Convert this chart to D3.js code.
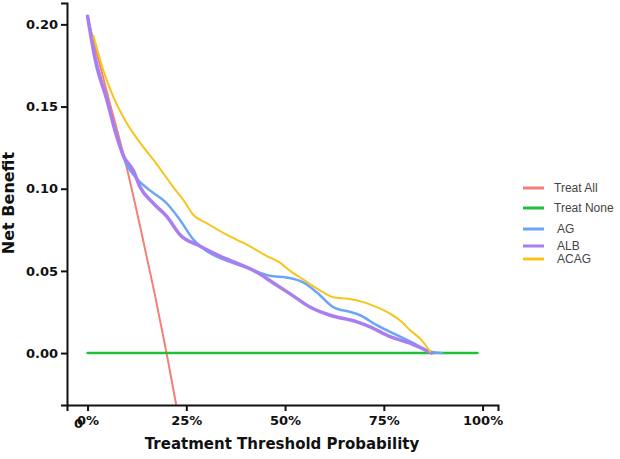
<!DOCTYPE html>
<html>
<head>
<meta charset="utf-8">
<script src="https://cdn.jsdelivr.net/npm/d3@7"></script>
<style>
  body { margin: 0; background: #fff; }
  .axis text { font-family: "DejaVu Sans", sans-serif; font-weight: bold; font-size: 13px; fill: #111; }
  .axis path, .axis line { stroke: #111; stroke-width: 2px; }
</style>
</head>
<body>
<div id="chart"></div>
<script>
// threshold probability (t) and net benefit (v)
var treatAll = [[0, 0.204], [0.05, 0.158], [0.10, 0.112], [0.135, 0.075], [0.17, 0.036], [0.20, 0.0], [0.224, -0.031]];
var treatNone = [[0, 0], [0.987, 0]];
var ag = [[0, 0.205], [0.02, 0.180], [0.049, 0.154], [0.07, 0.136], [0.091, 0.119], [0.125, 0.106], [0.158, 0.099],
  [0.201, 0.091], [0.234, 0.081], [0.268, 0.069], [0.302, 0.062], [0.344, 0.057], [0.403, 0.052], [0.462, 0.047],
  [0.504, 0.046], [0.546, 0.043], [0.580, 0.037], [0.622, 0.028], [0.665, 0.025], [0.690, 0.023], [0.732, 0.017],
  [0.774, 0.012], [0.825, 0.006], [0.867, 0.001], [0.897, 0.0]];
var alb = [[0, 0.205], [0.02, 0.178], [0.049, 0.154], [0.07, 0.135], [0.091, 0.120], [0.116, 0.111], [0.133, 0.101],
  [0.167, 0.091], [0.201, 0.083], [0.234, 0.072], [0.285, 0.065], [0.335, 0.059], [0.385, 0.054], [0.430, 0.049],
  [0.462, 0.044], [0.513, 0.036], [0.563, 0.028], [0.614, 0.023], [0.682, 0.019], [0.715, 0.016], [0.766, 0.010],
  [0.816, 0.006], [0.871, 0.0]];
var acag = [[0.015, 0.193], [0.040, 0.172], [0.065, 0.156], [0.099, 0.140], [0.133, 0.128], [0.175, 0.115],
  [0.217, 0.101], [0.243, 0.093], [0.268, 0.084], [0.302, 0.079], [0.352, 0.072], [0.403, 0.066], [0.454, 0.059],
  [0.487, 0.055], [0.513, 0.050], [0.538, 0.046], [0.563, 0.042], [0.589, 0.038], [0.622, 0.034], [0.660, 0.033],
  [0.698, 0.031], [0.732, 0.028], [0.766, 0.024], [0.795, 0.019], [0.816, 0.014], [0.845, 0.008], [0.867, 0.001]];

var seriesNames = ["Treat All", "Treat None", "AG", "ALB", "ACAG"];
var seriesColors = ["#f28079", "#1fc13a", "#6aa5f7", "#a97ef0", "#f7c519"];
var seriesWidths = [2, 2.5, 2.5, 3.5, 2];
var xTicks = [0, 0.25, 0.5, 0.75, 1];
var yTicks = [0, 0.05, 0.10, 0.15, 0.20];

function renderDca() {
  var width = 620, height = 459;
  var data = [treatAll, treatNone, ag, alb, acag];

  var x = d3.scaleLinear().domain([-0.052, 1.039]).range([67, 498]);
  var y = d3.scaleLinear().domain([-0.0316, 0.213]).range([405, 3]);

  var svg = d3.select("#chart").append("svg")
      .attr("width", width)
      .attr("height", height);

  svg.append("clipPath").attr("id", "plot")
    .append("rect")
      .attr("x", 67).attr("y", 0)
      .attr("width", 440).attr("height", 405);

  var line = d3.line()
      .x(function(d) { return x(d[0]); })
      .y(function(d) { return y(d[1]); })
      .curve(d3.curveMonotoneX);

  svg.append("g").attr("clip-path", "url(#plot)")
    .selectAll("path")
    .data(data)
    .enter().append("path")
      .attr("d", line)
      .style("fill", "none")
      .style("stroke", function(d, i) { return seriesColors[i]; })
      .style("stroke-width", function(d, i) { return seriesWidths[i]; })
      .style("stroke-linejoin", "round")
      .style("stroke-linecap", "round");

  var xAxis = d3.axisBottom(x)
      .tickValues(xTicks)
      .tickFormat(d3.format(".0%"))
      .tickSizeOuter(0)
      .tickSize(6)
      .tickPadding(5);

  var yAxis = d3.axisLeft(y)
      .tickValues(yTicks)
      .tickFormat(d3.format(".2f"))
      .tickSizeOuter(0)
      .tickSize(6)
      .tickPadding(3);

  svg.append("g")
      .attr("class", "x axis")
      .attr("transform", "translate(0,405)")
      .call(xAxis);

  svg.append("g")
      .attr("class", "y axis")
      .attr("transform", "translate(67,0)")
      .call(yAxis);

  // stray "0" overprinted on the 0% label
  svg.append("text")
      .attr("x", x(0) - 9)
      .attr("y", 428)
      .attr("text-anchor", "middle")
      .style("font-family", "DejaVu Sans")
      .style("font-weight", "bold")
      .style("font-size", "13px")
      .style("fill", "#111")
      .text("0");

  svg.append("text")
      .attr("x", 282)
      .attr("y", 449)
      .attr("text-anchor", "middle")
      .style("font-family", "DejaVu Sans")
      .style("font-weight", "bold")
      .style("font-size", "15px")
      .style("fill", "#111")
      .text("Treatment Threshold Probability");

  svg.append("text")
      .attr("transform", "translate(14,203) rotate(-90)")
      .attr("text-anchor", "middle")
      .style("font-family", "DejaVu Sans")
      .style("font-weight", "bold")
      .style("font-size", "16px")
      .style("fill", "#111")
      .text("Net Benefit");

  // legend
  var legendY = [188, 208, 229, 246, 259];
  var legendX = [554, 554, 557, 557, 557];
  var legend = svg.append("g");
  seriesNames.forEach(function(name, i) {
    legend.append("line")
        .attr("x1", 523).attr("x2", 544)
        .attr("y1", legendY[i]).attr("y2", legendY[i])
        .style("stroke", seriesColors[i])
        .style("stroke-width", 3);
    legend.append("text")
        .attr("x", legendX[i])
        .attr("y", legendY[i])
        .attr("dy", "0.35em")
        .style("font-family", "Liberation Sans, Arial, sans-serif")
        .style("font-size", "12px")
        .style("fill", "#444")
        .text(name);
  });
}

renderDca();
</script>
</body>
</html>
